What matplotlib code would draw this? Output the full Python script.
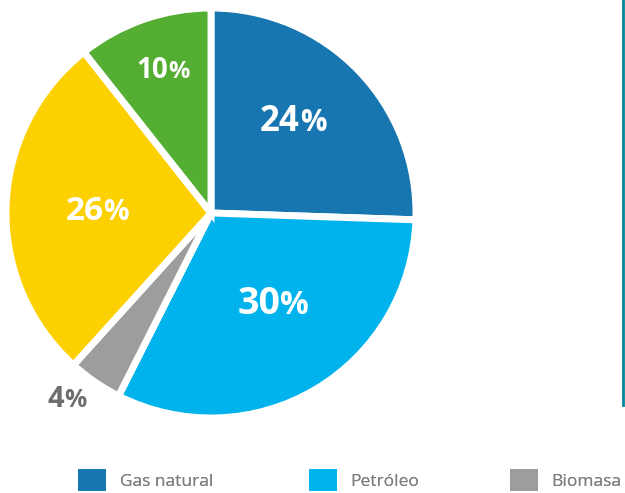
import numpy as np
import matplotlib
matplotlib.use('Agg')
from matplotlib import pyplot as plt
from matplotlib.lines import Line2D

# shares per source, clockwise from 12 o'clock
sources = ['Gas natural', 'Petróleo', 'Biomasa', 'Carbón', 'Otros']
shares = [24, 30, 4, 26, 10]
colors = ['#1776b0', '#00b3ec', '#9d9d9c', '#fdd000', '#53ae32']
label_sizes = [25, 27, 21, 24, 20]
label_radius = [0.61, 0.53, 1.15, 0.55, 0.74]
label_nudge = [(-1, 4), (14, 2), (-13, 8), (5, -2), (7, -1)]  # px
label_colors = ['white', 'white', '#6d6d6d', 'white', 'white']
legend_x = [78, 309, 510]  # px, left edge of each legend entry

plt.rcParams['font.family'] = ['Open Sans', 'DejaVu Sans']

fig = plt.figure(figsize=(6.25, 4.93), dpi=100)
W, H = 625, 493
cx, cy, r = 211, 213, 205
ax = fig.add_axes([(cx - r) / W, (H - cy - r) / H, 2 * r / W, 2 * r / H])

wedges, _ = ax.pie(shares, colors=colors, startangle=90, counterclock=False,
                   wedgeprops=dict(edgecolor='white', linewidth=5))
ax.set_aspect('equal')
ax.set_xlim(-1, 1)
ax.set_ylim(-1, 1)

for w, val, fs, rr, nd, col in zip(wedges, shares, label_sizes, label_radius,
                                   label_nudge, label_colors):
    ang = np.deg2rad((w.theta1 + w.theta2) / 2)
    x, y = rr * np.cos(ang), rr * np.sin(ang)
    ax.annotate(str(val), (x, y), xytext=nd, textcoords='offset pixels',
                ha='right', va='center', fontsize=fs, fontweight='bold', color=col)
    ax.annotate('%', (x, y), xytext=(nd[0], nd[1] - 1), textcoords='offset pixels',
                ha='left', va='center', fontsize=fs * 0.85, fontweight='bold', color=col)

# one legend per entry so each sits where the reference has it
for w, name, lx in zip(wedges[:3], sources[:3], legend_x):
    leg = fig.legend([w], [name], loc='center left',
                     bbox_to_anchor=(lx / W, 1 - 480 / H), frameon=False,
                     fontsize=12.5, handlelength=1.6, handleheight=1.6,
                     handletextpad=0.8, borderpad=0, borderaxespad=0)
    for t in leg.get_texts():
        t.set_color('#7f7f7f')
    for h in leg.legend_handles:
        h.set_edgecolor('none')
    fig.add_artist(leg)

fig.add_artist(Line2D([623 / W, 623 / W], [1, 1 - 405 / H],
                      transform=fig.transFigure, color='#00889a', lw=2))

fig.savefig('out.png', dpi=100)
